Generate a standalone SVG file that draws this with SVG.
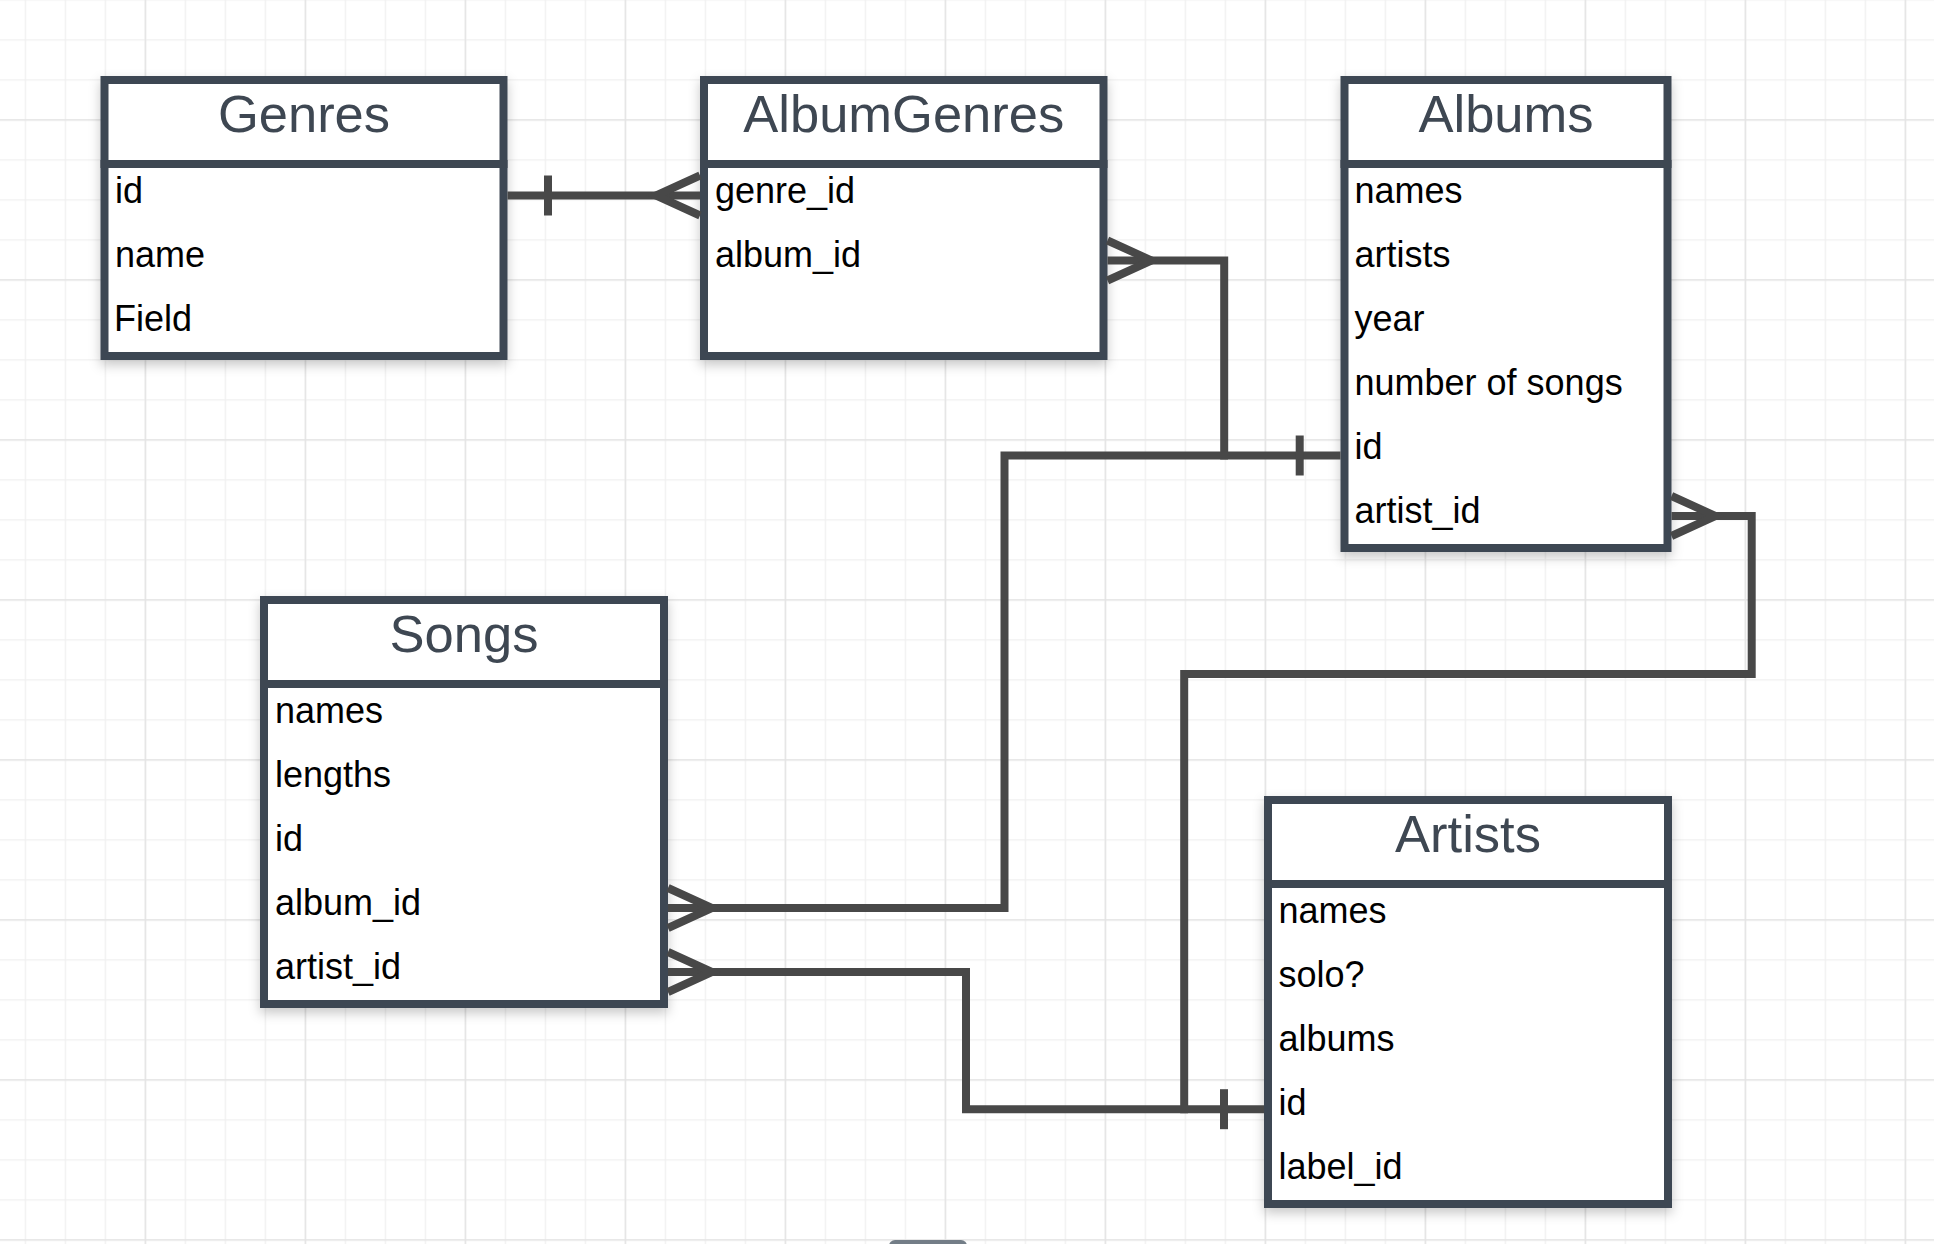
<svg xmlns="http://www.w3.org/2000/svg" width="1934" height="1244" viewBox="0 0 1934 1244">
  <style>
    .box { fill: #ffffff; stroke: #3e4752; stroke-width: 8; filter: url(#shadow); }
    .div { stroke: #3e4752; stroke-width: 8; }
    .title { font-family: "Liberation Sans", Arial, sans-serif; font-size: 52.5px; fill: #3e4752; text-anchor: middle; }
    .row { font-family: "Liberation Sans", Arial, sans-serif; font-size: 36px; fill: #000000; }
    .conn { fill: none; stroke: #484848; stroke-width: 8; stroke-linejoin: miter; stroke-linecap: butt; }
  </style>
  <defs>
    <pattern id="minor" patternUnits="userSpaceOnUse" x="24.7" y="39.3" width="40" height="40">
      <path d="M0.5,0 V40 M0,0.5 H40" stroke="#f0f0f0" stroke-width="1.5" fill="none"/>
    </pattern>
    <pattern id="major" patternUnits="userSpaceOnUse" x="144.7" y="119.3" width="160" height="160">
      <path d="M0.5,0 V160 M0,0.5 H160" stroke="#e3e3e3" stroke-width="1.6" fill="none"/>
    </pattern>
    <filter id="shadow" x="-10%" y="-10%" width="120%" height="120%">
      <feDropShadow dx="0" dy="5" stdDeviation="6" flood-color="#000000" flood-opacity="0.22"/>
    </filter>
  </defs>

  <rect x="0" y="0" width="1934" height="1244" fill="#ffffff"/>
  <rect x="0" y="0" width="1934" height="1244" fill="url(#minor)"/>
  <rect x="0" y="0" width="1934" height="1244" fill="url(#major)"/>
  <rect x="889" y="1240" width="78" height="12" rx="6" fill="#737d87"/>

  <g id="Genres">
    <rect class="box" x="104.5" y="80" width="399" height="276"/>
    <line class="div" x1="100.5" y1="164" x2="507.5" y2="164"/>
    <text class="title" x="304" y="132">Genres</text>
    <text class="row" x="115" y="203">id</text>
    <text class="row" x="115" y="267">name</text>
    <text class="row" x="114" y="331">Field</text>
  </g>

  <g id="AlbumGenres">
    <rect class="box" x="704" y="80" width="399.5" height="276"/>
    <line class="div" x1="700" y1="164" x2="1107.5" y2="164"/>
    <text class="title" x="903.75" y="132">AlbumGenres</text>
    <text class="row" x="715" y="203">genre_id</text>
    <text class="row" x="715" y="267">album_id</text>
  </g>

  <g id="Albums">
    <rect class="box" x="1344.5" y="80" width="323" height="468"/>
    <line class="div" x1="1340.5" y1="164" x2="1671.5" y2="164"/>
    <text class="title" x="1506" y="132">Albums</text>
    <text class="row" x="1354.5" y="203">names</text>
    <text class="row" x="1354.5" y="267">artists</text>
    <text class="row" x="1354.5" y="331">year</text>
    <text class="row" x="1354.5" y="395">number of songs</text>
    <text class="row" x="1354.5" y="459">id</text>
    <text class="row" x="1354.5" y="523">artist_id</text>
  </g>

  <g id="Songs">
    <rect class="box" x="264" y="600" width="400" height="404"/>
    <line class="div" x1="260" y1="684" x2="668" y2="684"/>
    <text class="title" x="464" y="652">Songs</text>
    <text class="row" x="275" y="723">names</text>
    <text class="row" x="275" y="787">lengths</text>
    <text class="row" x="275" y="851">id</text>
    <text class="row" x="275" y="915">album_id</text>
    <text class="row" x="275" y="979">artist_id</text>
  </g>

  <g id="Artists">
    <rect class="box" x="1268" y="800" width="400" height="404"/>
    <line class="div" x1="1264" y1="884" x2="1672" y2="884"/>
    <text class="title" x="1468" y="852">Artists</text>
    <text class="row" x="1278.5" y="923">names</text>
    <text class="row" x="1278.5" y="987">solo?</text>
    <text class="row" x="1278.5" y="1051">albums</text>
    <text class="row" x="1278.5" y="1115">id</text>
    <text class="row" x="1278.5" y="1179">label_id</text>
  </g>

  <g id="connectors">
    <!-- Genres.id to AlbumGenres.genre_id -->
    <path class="conn" d="M507.5,195.5 H700"/>
    <path class="conn" d="M548,175.5 V215.5"/>
    <path class="conn" d="M700,175.5 L656,195.5 L700,215.5"/>

    <!-- AlbumGenres.album_id to Albums.id -->
    <path class="conn" d="M1107.5,260.5 H1224.2 V455.5 H1340.5"/>
    <path class="conn" d="M1107.5,240.5 L1151.5,260.5 L1107.5,280.5"/>
    <path class="conn" d="M1299.7,435.5 V475.5"/>

    <!-- Songs.album_id to Albums.id -->
    <path class="conn" d="M668,908 H1004.5 V455.5 H1228"/>
    <path class="conn" d="M668,888 L712,908 L668,928"/>

    <!-- Albums.artist_id to Artists.id -->
    <path class="conn" d="M1671.5,516 H1751.7 V674 H1184.2 V1109.2 H1264"/>
    <path class="conn" d="M1671.5,496 L1715.5,516 L1671.5,536"/>
    <path class="conn" d="M1224,1089.2 V1129.2"/>

    <!-- Songs.artist_id to Artists.id -->
    <path class="conn" d="M668,972 H966 V1109.2 H1188"/>
    <path class="conn" d="M668,952 L712,972 L668,992"/>
  </g>
</svg>
